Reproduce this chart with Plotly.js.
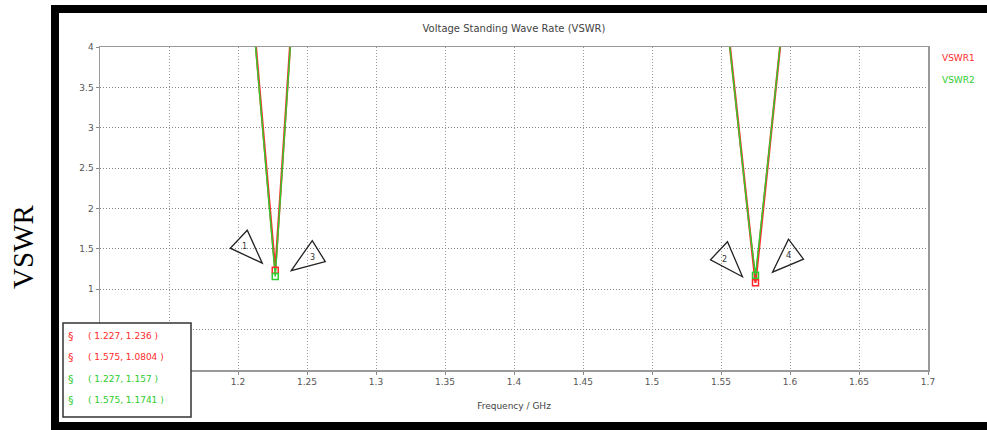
<!DOCTYPE html>
<html>
<head>
<meta charset="utf-8">
<script src="https://cdn.plot.ly/plotly-3.0.1.min.js"></script>
<style>
html,body{margin:0;padding:0;background:#fff;overflow:hidden;}
#wrap{position:relative;width:987px;height:430px;overflow:hidden;}
#chart{width:987px;height:430px;}
#frame{position:absolute;left:51px;top:5px;width:940px;height:409px;border-top:8px solid #000;border-left:8px solid #000;border-bottom:8px solid #000;border-right:none;pointer-events:none;}
</style>
</head>
<body>
<div id="wrap"><div id="chart"></div><div id="frame"></div></div>
<script>
// Frequency samples (GHz); null separates the two resonances
const freq = [1.205, 1.21, 1.215, 1.22, 1.225, 1.227, 1.23, 1.235, 1.24, 1.245, null,
              1.55, 1.555, 1.56, 1.565, 1.57, 1.575, 1.58, 1.585, 1.59, 1.595, 1.60];
const vswr1 = [5.9, 4.6, 3.6, 2.62, 1.63, 1.236, 2.0, 3.3, 4.6, 5.9, null,
               5.03, 4.24, 3.45, 2.66, 1.87, 1.0804, 1.90, 2.72, 3.54, 4.36, 5.18];
const vswr2 = [5.85, 4.55, 3.55, 2.55, 1.55, 1.157, 1.95, 3.25, 4.55, 5.85, null,
               5.0, 4.2, 3.42, 2.63, 1.85, 1.1741, 1.93, 2.74, 3.55, 4.36, 5.2];
const seriesNames = ['VSWR1', 'VSWR2'];
const seriesColors = ['#ff2a2a', '#2ecc2e'];
// Markers: [freq, value, series index, label]
const markerFreq = [1.227, 1.575, 1.227, 1.575];
const markerVal = [1.236, 1.0804, 1.157, 1.1741];
const markerSeries = [0, 0, 1, 1];
const markerLabels = ['1', '2', '3', '4'];
const markerText = ['( 1.227, 1.236 )', '( 1.575, 1.0804 )', '( 1.227, 1.157 )', '( 1.575, 1.1741 )'];
const xTicks = [1.1, 1.15, 1.2, 1.25, 1.3, 1.35, 1.4, 1.45, 1.5, 1.55, 1.6, 1.65, 1.7];
const xTickText = ['', '', '1.2', '1.25', '1.3', '1.35', '1.4', '1.45', '1.5', '1.55', '1.6', '1.65', '1.7'];
const yTicks = [0, 0.5, 1, 1.5, 2, 2.5, 3, 3.5, 4];
const yTickText = ['', '', '1', '1.5', '2', '2.5', '3', '3.5', '4'];

// Callout triangle geometry (pixel offsets from marker, y up) and label offsets
const triPaths = [
  'M -13,7 L -45,22 L -28,40 Z',
  'M -13,6 L -45,23 L -28,41 Z',
  'M 16,6 L 37,36 L 50,15 Z',
  'M 17,3 L 33,36 L 48,16 Z'
];
const labelOff = [[-31, 24], [-31, 23], [37, 19], [33, 20]];

const traces = [
  {x: freq, y: vswr1, mode: 'lines', line: {color: seriesColors[0], width: 2.2}, connectgaps: false, showlegend: false},
  {x: freq, y: vswr2, mode: 'lines', line: {color: seriesColors[1], width: 1.4}, connectgaps: false, showlegend: false}
];
for (let s = 0; s < 2; s++) {
  const xs = [], ys = [];
  for (let i = 0; i < markerFreq.length; i++) if (markerSeries[i] === s) { xs.push(markerFreq[i]); ys.push(markerVal[i]); }
  traces.push({x: xs, y: ys, mode: 'markers', showlegend: false,
    marker: {symbol: 'square-open', size: 6, color: seriesColors[s], line: {width: 1.5, color: seriesColors[s]}}});
}

const gray = '#555';
const shapes = [];
const annotations = [];
for (let i = 0; i < markerFreq.length; i++) {
  shapes.push({type: 'path', xref: 'x', yref: 'y', xsizemode: 'pixel', ysizemode: 'pixel',
    xanchor: markerFreq[i], yanchor: markerVal[i], path: triPaths[i],
    line: {color: '#222', width: 1.3}, fillcolor: 'rgba(255,255,255,0)'});
  annotations.push({x: markerFreq[i], y: markerVal[i], xref: 'x', yref: 'y', showarrow: false,
    xshift: labelOff[i][0], yshift: labelOff[i][1], text: markerLabels[i],
    font: {family: 'DejaVu Sans', size: 8, color: '#333'}});
}
// Marker readout box
const bx0 = (63 - 100) / 828, bx1 = (191 - 100) / 828, by1 = (370 - 323) / 323, by0 = (370 - 417) / 323;
shapes.push({type: 'rect', xref: 'paper', yref: 'paper', x0: bx0, x1: bx1, y0: by0, y1: by1,
  line: {color: '#333', width: 1.5}, fillcolor: '#fff', layer: 'above'});
const rowY = [336, 357, 379, 400];
for (let i = 0; i < markerText.length; i++) {
  const c = seriesColors[markerSeries[i]];
  annotations.push({xref: 'paper', yref: 'paper', x: (66 - 100) / 828, y: (370 - rowY[i]) / 323,
    xanchor: 'left', yanchor: 'middle', showarrow: false, text: '§',
    font: {family: 'DejaVu Sans', size: 11, color: c}});
  annotations.push({xref: 'paper', yref: 'paper', x: (86 - 100) / 828, y: (370 - rowY[i]) / 323,
    xanchor: 'left', yanchor: 'middle', showarrow: false, text: markerText[i],
    font: {family: 'DejaVu Sans', size: 9, color: c}});
}
// Legend-like labels
for (let s = 0; s < 2; s++) {
  annotations.push({xref: 'paper', yref: 'paper', x: (940 - 100) / 828, y: (370 - (58 + s * 22)) / 323,
    xanchor: 'left', yanchor: 'middle', showarrow: false, text: seriesNames[s],
    font: {family: 'DejaVu Sans', size: 9, color: seriesColors[s]}});
}
// Outside y label
annotations.push({xref: 'paper', yref: 'paper', x: (23 - 100) / 828, y: (370 - 247) / 323,
  xanchor: 'center', yanchor: 'middle', showarrow: false, textangle: -90, text: 'VSWR',
  font: {family: 'Liberation Serif', size: 29, color: '#000'}});

const layout = {
  width: 987, height: 430,
  margin: {l: 100, r: 59, t: 47, b: 60},
  paper_bgcolor: '#fff', plot_bgcolor: '#fff',
  title: {text: 'Voltage Standing Wave Rate (VSWR)', x: 0.5, xref: 'paper', y: 1 - 28 / 430, yanchor: 'middle',
    font: {family: 'DejaVu Sans', size: 10, color: '#444'}},
  xaxis: {range: [1.1, 1.7], tickvals: xTicks, ticktext: xTickText,
    showgrid: true, gridcolor: '#999', griddash: '1px,2px', gridwidth: 1,
    showline: true, mirror: true, linecolor: '#999', linewidth: 1.5,
    ticks: 'outside', ticklen: 3, tickcolor: '#888', zeroline: false,
    tickfont: {family: 'DejaVu Sans', size: 9, color: gray},
    title: {text: 'Frequency / GHz', standoff: 16, font: {family: 'DejaVu Sans', size: 9, color: '#444'}}},
  yaxis: {range: [0, 4], tickvals: yTicks, ticktext: yTickText,
    showgrid: true, gridcolor: '#888', griddash: '1px,2px', gridwidth: 1,
    showline: true, mirror: true, linecolor: '#999', linewidth: 1.5,
    ticks: 'outside', ticklen: 3, tickcolor: '#888', zeroline: false,
    tickfont: {family: 'DejaVu Sans', size: 9, color: gray}},
  shapes: shapes,
  annotations: annotations,
  showlegend: false
};
Plotly.newPlot('chart', traces, layout, {staticPlot: true});
</script>
</body>
</html>
